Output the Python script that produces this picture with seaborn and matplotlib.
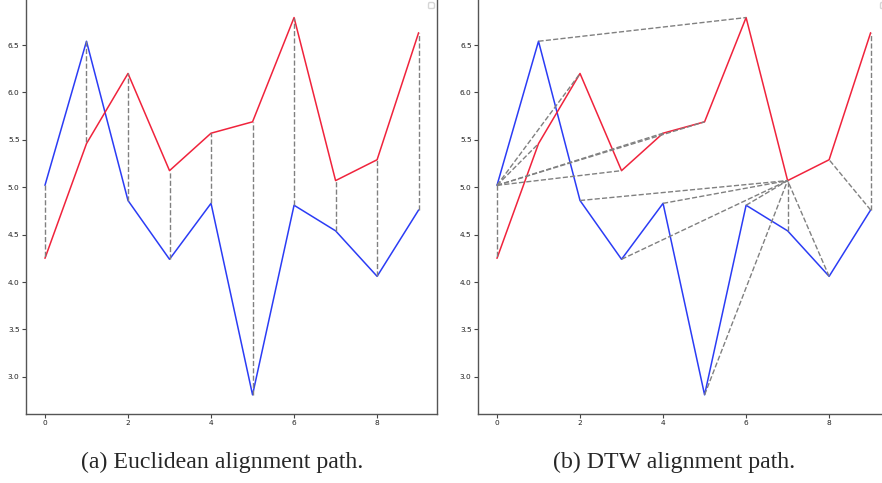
import matplotlib
matplotlib.use("Agg")
import matplotlib.pyplot as plt
import seaborn as sns

# two series
steps = list(range(10))
series_blue = [5.02, 6.54, 4.86, 4.24, 4.83, 2.81, 4.81, 4.54, 4.06, 4.76]
series_red = [4.25, 5.46, 6.20, 5.175, 5.57, 5.69, 6.79, 5.07, 5.29, 6.63]

# alignment pairs (blue index, red index)
euclid_path = [(i, i) for i in steps]
dtw_path = [(0, 0), (0, 1), (0, 2), (0, 3), (0, 4), (0, 5), (1, 6),
            (2, 7), (3, 7), (4, 7), (5, 7), (6, 7), (7, 7), (8, 7),
            (9, 8), (9, 9)]

captions = ["(a) Euclidean alignment path.", "(b) DTW alignment path."]

sns.set_style("ticks")
plt.rcParams.update({
    "axes.edgecolor": "#555555",
    "axes.linewidth": 1.0,
    "xtick.labelsize": 5.3,
    "ytick.labelsize": 5.3,
    "xtick.color": "#444444",
    "ytick.color": "#444444",
    "xtick.labelcolor": "#222222",
    "ytick.labelcolor": "#222222",
    "xtick.major.size": 3,
    "ytick.major.size": 3,
    "xtick.major.pad": 1.8,
    "ytick.major.pad": 1.8,
    "legend.fontsize": 5.3,
})

fig = plt.figure(figsize=(8.82, 4.83), dpi=100)
ax_a = fig.add_axes([0.0298, 0.1435, 0.466, 0.8592])
ax_b = fig.add_axes([0.5423, 0.1435, 0.466, 0.8592])

for ax, path, cap, cx in [(ax_a, euclid_path, captions[0], 0.2523),
                          (ax_b, dtw_path, captions[1], 0.7644)]:
    sns.lineplot(x=steps, y=series_blue, color="#2b3cf5", linewidth=1.1, ax=ax)
    sns.lineplot(x=steps, y=series_red, color="#f0233c", linewidth=1.1, ax=ax)
    for i, j in path:
        ax.plot([steps[i], steps[j]], [series_blue[i], series_red[j]],
                color="gray", linestyle="--", linewidth=1.0)
    sns.despine(ax=ax, top=True, right=False)
    ax.legend(handles=[], loc="upper right")
    fig.text(cx, 0.0435, cap, ha="center", va="center",
             family="Liberation Serif", fontsize=17.2)

fig.savefig("out.png", dpi=100)
